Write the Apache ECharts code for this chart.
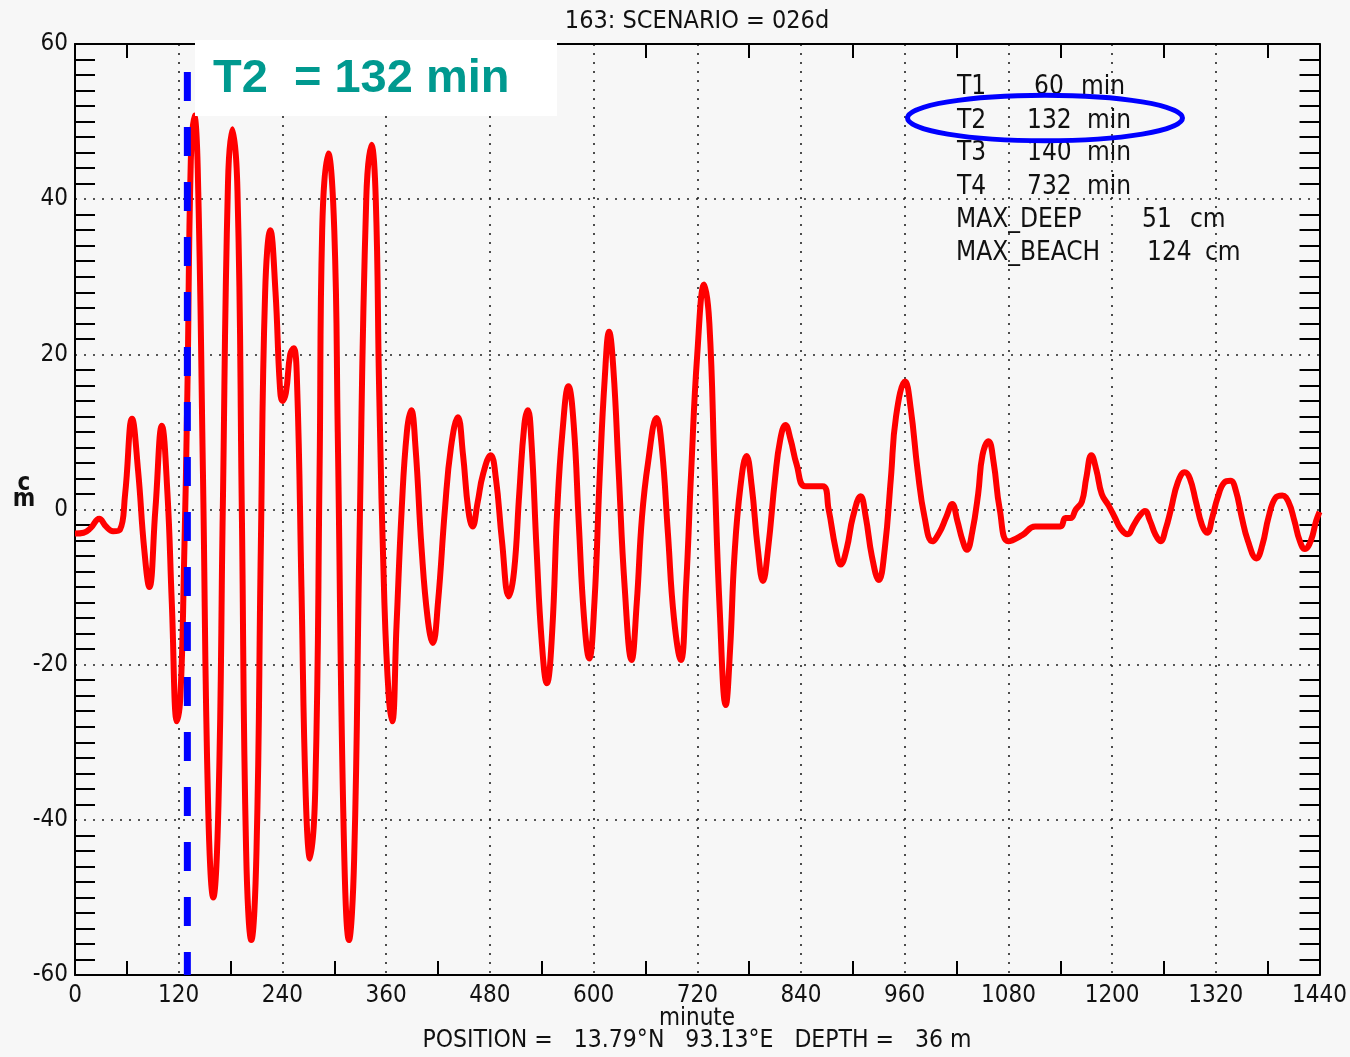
<!DOCTYPE html>
<html>
<head>
<meta charset="utf-8">
<script src="https://cdn.jsdelivr.net/npm/echarts@6/dist/echarts.min.js"></script>
<style>
html,body{margin:0;padding:0;background:#f7f7f7;}
#chart{width:1350px;height:1057px;}
</style>
</head>
<body>
<div id="chart"></div>
<script>
// ---- data ----
var minutes = [0,10,18,28,36,44,52,58,66,73,80,86,93,100.5,107,112,118,122,126,130,134,138,142,148,154,160,166,171,177,182,188,193,198,204,210,215,220,226,232,237,240,244,249,253,257,262,267,272,278,283,286,293,300,304,311,317,323,329,337,343,348,352,358,363,367,372,378,384,389,394,401,408,414,420,428,435,443,449,455,460,466,472,481,487,494,502,508,514,520,524,528,534,540,546,552,558,564,571,577,583,589,595,601,607,613,618,623,629,636,644,650,656,663,673,679,686,693,701,707,713,720,728,734,740,746,753,758,763,770,777,783,790,796,802,810,816,822,828,835,845,865,872,880,886,893,900,909,915,922,930,937,944,950,960.5,967,975,983,992,1000,1008,1015,1021,1027,1032,1038,1045,1050,1057,1063,1070,1080,1096,1111,1140,1146,1152,1158,1165,1170,1176,1182,1188,1196,1203,1210,1218,1225,1232,1238,1244,1250,1256,1262,1268,1276,1284,1290,1297,1304,1310,1316,1322,1330,1337,1343,1350,1357,1367,1374,1381,1389,1397,1404,1411,1417,1423,1430,1436,1440];
var waterLevel = [-3.1,-3.0,-2.4,-1.2,-2.2,-2.8,-2.6,2,11.7,5,-5,-10,0,10.8,2,-12,-27.3,-24,-8,15,45,50.8,44,5,-38,-50,-38,0,42,49,41,0,-44,-55.5,-44,-5,28,36,28,16,14,15,20,20.8,16,-10,-37,-45,-36,5,36,45.9,36,10,-42,-55.5,-45,-5,40,47,40,15,-12,-24,-27.3,-15,0,10,12.8,8,-5,-14,-17.2,-12,0,8,11.9,7,0,-2.2,1,4.5,7.0,4,-4,-11.2,-8,2,11,12.8,9,-5,-17,-22.4,-16,0,10,15.9,11,-2,-14,-19.2,-12,4,17,22.9,18,5,-10,-19.4,-12,-1,6,11.8,8,-3,-14,-19.4,-10,5,20,29,24,5,-13,-25.2,-18,-6,3,6.9,3,-5,-9.2,-5,4,9,10.9,9,5.8,3.0,3.0,0,-5,-7.1,-5,-1,1.7,-1,-6,-9.1,-5,4,12,16.5,13,5,-1,-4.1,-3,-1,0.7,-1.5,-4,-5.2,-3,2,7,8.8,6,0,-4.1,-3.3,-2.2,-2.2,-1.1,-1.1,0,1.0,4,7.0,5,2,0.5,-1,-2.5,-3.2,-2,-0.8,-0.2,-1.5,-3.2,-4.1,-2.5,0,3.5,4.8,4,1,-2,-3.0,-1,1.5,3.5,3.7,2.5,-1,-4,-6.3,-4.5,-1,1.5,1.8,1,-1.5,-4,-5.1,-4,-1.5,-0.3];
var t2LineMinutes = [130, 130];
var t2LineLevels = [56.4, -60];
var legendLabels = ['T1','T2','T3','T4','MAX_DEEP','MAX_BEACH'];
var legendValues = ['60','132','140','732','51','124'];
var legendUnits = ['min','min','min','min','cm','cm'];
var titleText = '163: SCENARIO = 026d';
var xAxisName = 'minute';
var footerText = 'POSITION =   13.79°N   93.13°E   DEPTH =   36 m';
var yAxisName = 'c\nm';
var calloutText = 'T2  = 132 min';

// ---- layout ----
var F = "'Liberation Sans Narrow','Arial Narrow','DejaVu Sans Condensed','Liberation Sans',sans-serif";
var legendRowY = [87,121.5,153.5,187,220,253];
var legendLabelX = [957,957,957,957,956,956];
var legendValueX = [1034,1027,1027,1027,1142,1147];
var legendUnitX = [1081,1087,1087,1087,1190,1205];

var seriesData = minutes.map(function(m,i){return [m, waterLevel[i]];});
var t2Data = t2LineMinutes.map(function(m,i){return [m, t2LineLevels[i]];});

var dotted = {color:'#222', width:1.6, type:[2,7]};
function plain(v){return String(v);}
function xAx(pos, labels){
  return {type:'value', position:pos, min:0, max:1440, interval:120,
    axisLine:{show:true, onZero:false, lineStyle:{color:'#000', width:2}},
    axisTick:{show:false, inside:true},
    minorTick:{show:true, splitNumber:2, length:14, lineStyle:{color:'#000', width:2}},
    minorSplitLine:{show:false},
    splitLine:{show:labels, lineStyle:dotted},
    axisLabel:{show:labels, color:'#111', fontFamily:F, fontSize:24, margin:9, formatter:plain}
  };
}
function yAx(pos, labels){
  return {type:'value', position:pos, min:-60, max:60, interval:20,
    axisLine:{show:true, onZero:false, lineStyle:{color:'#000', width:2}},
    axisTick:{show:false, inside:true},
    minorTick:{show:true, splitNumber:10, length:20, lineStyle:{color:'#000', width:2}},
    minorSplitLine:{show:false},
    splitLine:{show:labels, lineStyle:dotted},
    axisLabel:{show:labels, color:'#111', fontFamily:F, fontSize:24, margin:7, formatter:plain}
  };
}

var graphics = [
  {type:'text', style:{text:titleText, x:697, y:21, align:'center', verticalAlign:'middle', font:'25px '+F, fill:'#111'}},
  {type:'text', style:{text:xAxisName, x:697, y:1019, align:'center', verticalAlign:'middle', font:'24px '+F, fill:'#111'}},
  {type:'text', style:{text:footerText, x:697, y:1041, align:'center', verticalAlign:'middle', font:'24.5px '+F, fill:'#111'}},
  {type:'text', style:{text:yAxisName, x:24, y:492, align:'center', verticalAlign:'middle', font:'bold 24px '+F, fill:'#111', lineHeight:16}},
  {type:'rect', z:100, shape:{x:195, y:40, width:362, height:76}, style:{fill:'#ffffff'}},
  {type:'text', z:101, style:{text:calloutText, x:213, y:79, verticalAlign:'middle', font:'bold 47px "Liberation Sans",Arial,sans-serif', fill:'#00998f'}}
];
legendLabels.forEach(function(l,i){
  graphics.push({type:'text', z:50, style:{text:l, x:legendLabelX[i], y:legendRowY[i], verticalAlign:'middle', font:'26px '+F, fill:'#111'}});
  graphics.push({type:'text', z:50, style:{text:legendValues[i], x:legendValueX[i], y:legendRowY[i], verticalAlign:'middle', font:'26px '+F, fill:'#111'}});
  graphics.push({type:'text', z:50, style:{text:legendUnits[i], x:legendUnitX[i], y:legendRowY[i], verticalAlign:'middle', font:'26px '+F, fill:'#111'}});
});
graphics.push({type:'ellipse', z:102, shape:{cx:1045, cy:118, rx:137.5, ry:22.8}, style:{fill:null, stroke:'#0000ff', lineWidth:5}});

var chart = echarts.init(document.getElementById('chart'), null, {renderer:'canvas'});
chart.setOption({
  backgroundColor:'#f7f7f7',
  animation:false,
  grid:{left:75, right:29, top:44, bottom:82, show:false},
  xAxis:[xAx('bottom', true), xAx('top', false)],
  yAxis:[yAx('left', true), yAx('right', false)],
  series:[
    {type:'line', data:seriesData, showSymbol:false, symbol:'none', smooth:0.45,
     lineStyle:{color:'#ff0000', width:6}, z:3},
    {type:'line', data:t2Data, showSymbol:false, symbol:'none',
     lineStyle:{color:'#0000ff', width:7, type:[29,26]}, z:4}
  ],
  graphic:graphics
});
</script>
</body>
</html>
